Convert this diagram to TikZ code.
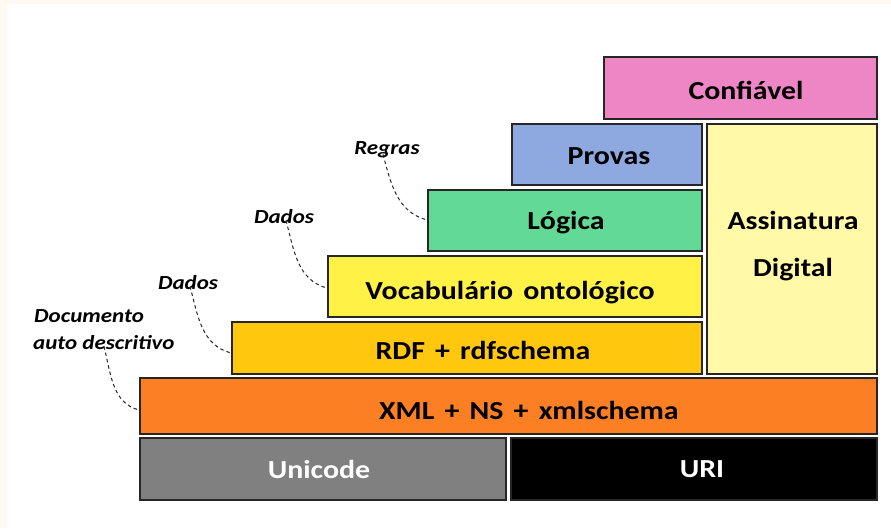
\documentclass[tikz,border=0pt]{standalone}
\usepackage{fontspec}
\usepackage{graphicx}
\setmainfont{Carlito}
\newcommand\wt[1]{\scalebox{1.15}[1]{\spaceskip=0.34em\relax #1}}
\newcommand\nt[1]{\scalebox{1.15}[1]{#1}}
\begin{document}
\begin{tikzpicture}[x=1pt,y=-1pt,
  layer/.style={draw=black!85,line width=1.3pt},
  lbl/.style={font=\bfseries\fontsize{26}{30}\selectfont,inner sep=0pt},
  note/.style={font=\bfseries\itshape\fontsize{20}{27}\selectfont,inner sep=0pt},
  link/.style={draw=black!85,line width=1pt,dash pattern=on 3.5pt off 3pt}]
\useasboundingbox (0,0) rectangle (891,528);
\fill[white] (0,0) rectangle (891,528);
\fill[orange!5] (0,0) rectangle (891,4);
\fill[orange!5] (0,0) rectangle (7,528);
% boxes
\draw[layer,fill={rgb,255:red,238;green,134;blue,198}] (604,57) rectangle (877,119);
\draw[layer,fill={rgb,255:red,142;green,169;blue,224}] (512,124) rectangle (702,185);
\draw[layer,fill={rgb,255:red,255;green,249;blue,168}] (707,124) rectangle (877,374);
\draw[layer,fill={rgb,255:red,98;green,217;blue,148}] (428,190) rectangle (702,251);
\draw[layer,fill={rgb,255:red,255;green,241;blue,69}] (328,256) rectangle (702,317);
\draw[layer,fill={rgb,255:red,255;green,200;blue,15}] (232,322) rectangle (702,374);
\draw[layer,fill={rgb,255:red,253;green,127;blue,35}] (140,378) rectangle (877,434);
\draw[layer,fill={rgb,255:red,128;green,128;blue,128}] (140,438) rectangle (506,500);
\draw[layer,fill=black] (511,438) rectangle (877,500);
% texts
\node[lbl] (conf) at (746,90) {\wt{Confiável}};
\node[lbl] (prov) at (609,156) {\wt{Provas}};
\node[lbl] (assin) at (793,220) {\wt{Assinatura}};
\node[lbl] (digi) at (793,270) {\wt{Digital}};
\node[lbl] (logi) at (566,223) {\wt{Lógica}};
\node[lbl] (voca) at (510,293) {\wt{Vocabulário ontológico}};
\node[lbl] (rdf) at (483,350) {\wt{RDF + rdfschema}};
\node[lbl] (xml) at (529,410) {\wt{XML + NS + xmlschema}};
\node[lbl,text=white] (uni) at (319,469) {\wt{Unicode}};
\node[lbl,text=white] (uri) at (702,469) {\wt{URI}};
% notes
\node[note] (regras) at (387,150) {\nt{Regras}};
\node[note] (dados1) at (284,217) {\nt{Dados}};
\node[note] (dados2) at (188,283) {\nt{Dados}};
\node[note,anchor=west] (doc1) at (34,316) {\nt{Documento}};
\node[note,anchor=west] (doc2) at (33,343) {\nt{auto descritivo}};
\coordinate (e1) at (427,220);
\coordinate (e2) at (327,288);
\coordinate (e3) at (231,353);
\coordinate (e4) at (139,410);
\draw[link] ([xshift=-4pt,yshift=4pt]regras.south) to[out=-75,in=165] (e1);
\draw[link] ([xshift=2pt,yshift=4pt]dados1.south) to[out=-75,in=165] (e2);
\draw[link] ([xshift=2pt,yshift=4pt]dados2.south) to[out=-75,in=165] (e3);
\draw[link] ([xshift=0pt,yshift=4pt]doc2.south) to[out=-75,in=165] (e4);
\end{tikzpicture}
\end{document}
